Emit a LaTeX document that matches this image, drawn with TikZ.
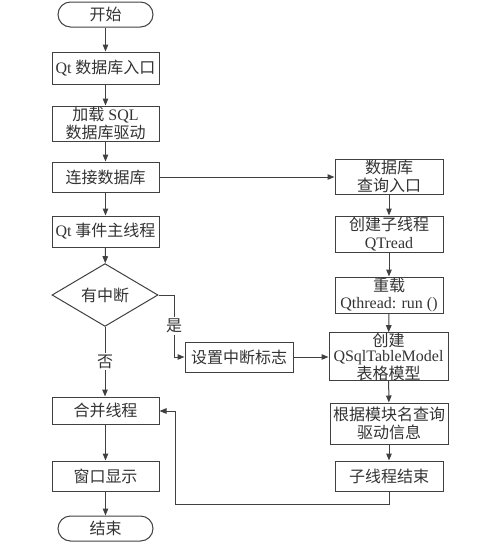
\documentclass[tikz,border=0pt]{standalone}
\usepackage{fontspec}
\setmainfont{Liberation Serif}
\newfontfamily\cjk{Noto Sans CJK SC}
\usetikzlibrary{shapes.geometric,arrows.meta}
\newcommand{\zh}[1]{{\cjk #1}}
\definecolor{lc}{HTML}{404040}
\definecolor{tc}{HTML}{333333}
\begin{document}
\begin{tikzpicture}[x=1pt,y=-1pt,
  every node/.style={font=\fontsize{16}{17}\selectfont, text=tc, inner sep=0pt, align=center},
  box/.style={draw=lc, line width=1pt, rectangle, minimum width=107pt},
  term/.style={draw=lc, line width=1pt, rectangle, rounded corners=12.5pt, minimum width=95pt, minimum height=25pt},
  dec/.style={draw=lc, line width=1pt, diamond, minimum width=106pt, minimum height=46pt},
  lbl/.style={fill=white, inner sep=1.5pt},
  arr/.style={draw=lc, line width=1pt, -{Triangle[length=7pt,width=5.5pt]}},
  ln/.style={draw=lc, line width=1pt}]
\useasboundingbox (0,0) rectangle (500,544);
% left column
\node[term] (start) at (105.5,14.5) {\zh{开始}};
\node[box, minimum height=32pt] (n1) at (105.5,68) {Qt \zh{数据库入口}};
\node[box, minimum height=35pt, font=\fontsize{16}{17.5}\selectfont] (n2) at (105.5,123.5) {\zh{加载} SQL\\\zh{数据库驱动}};
\node[box, minimum height=30pt] (n3) at (105.5,177) {\zh{连接数据库}};
\node[box, minimum height=31pt] (n4) at (105.5,231.5) {Qt \zh{事件主线程}};
\node[dec] (d) at (105,295) {\zh{有中断}};
\node[box, minimum height=27pt] (n5) at (105.5,410.5) {\zh{合并线程}};
\node[box, minimum height=30pt] (n6) at (105.5,476) {\zh{窗口显示}};
\node[term] (end) at (105.5,528.5) {\zh{结束}};
% middle
\node[box, minimum width=108pt, minimum height=30pt] (sf) at (239,357) {\zh{设置中断标志}};
% right column
\node[box, minimum width=108pt, minimum height=35pt, font=\fontsize{16}{17.5}\selectfont] (r1) at (389,176.5) {\zh{数据库}\\\zh{查询入口}};
\node[box, minimum width=108pt, minimum height=36pt, font=\fontsize{16}{17.5}\selectfont] (r2) at (389,234) {\zh{创建子线程}\\QTread};
\node[box, minimum width=108pt, minimum height=36pt, font=\fontsize{16}{17.5}\selectfont] (r3) at (389,295) {\zh{重载}\\Qthread: run ()};
\node[box, minimum width=119pt, minimum height=47pt, font=\fontsize{16}{15}\selectfont] (r4) at (388.5,356.5) {\zh{创建}\\QSqlTableModel\\\zh{表格模型}};
\node[box, minimum width=118pt, minimum height=41pt, font=\fontsize{16}{18}\selectfont] (r5) at (389,423.5) {\zh{根据模块名查询}\\\zh{驱动信息}};
\node[box, minimum width=108pt, minimum height=30pt] (r6) at (389,476) {\zh{子线程结束}};
% connectors left
\draw[arr] (start) -- (n1);
\draw[arr] (n1) -- (n2);
\draw[arr] (n2) -- (n3);
\draw[arr] (n3) -- (n4);
\draw[arr] (n4) -- (d);
\draw[arr] (d.south) -- node[lbl, pos=0.5] {\zh{否}} (n5.north -| d.south);
\draw[arr] (n5) -- (n6);
\draw[arr] (n6) -- (end);
\coordinate (c1) at (174,295);
\draw[arr] (d.east) -- (c1) -- node[lbl, pos=0.5] {\zh{是}} (c1 |- sf.west) -- (sf.west);
\draw[arr] (sf.east) -- (sf.east -| r4.west);
\draw[arr] (n3.east) -- (n3.east -| r1.west);
% right
\draw[arr] (r1) -- (r2);
\draw[arr] (r2) -- (r3);
\draw[arr] (r3) -- (r4);
\draw[arr] (r4) -- (r5);
\draw[arr] (r5) -- (r6);
\coordinate (c2) at (389,504);
\coordinate (c3) at (175,504);
\coordinate (c4) at (175,411);
\draw[arr] (r6.south) -- (c2) -- (c3) -- (c4) -- (n5.east |- c4);
\end{tikzpicture}
\end{document}
